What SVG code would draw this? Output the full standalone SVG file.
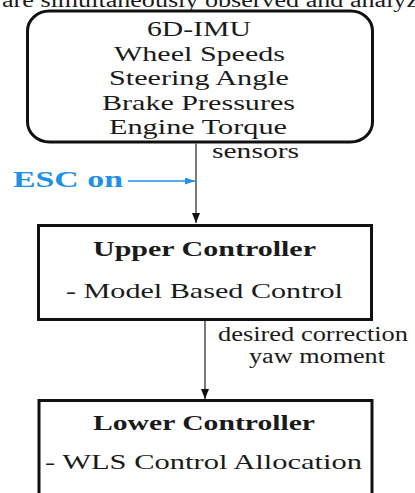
<svg xmlns="http://www.w3.org/2000/svg" width="415" height="493" viewBox="0 0 415 493">
<style>
  .t { font-size: 21.5px; text-anchor: middle; }
  .r { font-size: 20px; }
  .b { font-size: 20px; font-weight: bold; text-anchor: middle; }
  .box { fill: #ffffff; stroke: #111111; stroke-width: 3; }
  .conn { stroke: #333333; stroke-width: 1.3; fill: none; }
  .esc { font-size: 23px; font-weight: bold; fill: #1E90E8; }
</style>
<defs>
  <marker id="ah" markerWidth="10" markerHeight="8" refX="10" refY="4" orient="auto" markerUnits="userSpaceOnUse">
    <path d="M0,0 L10,4 L0,8 Z" fill="#111111"/>
  </marker>
  <marker id="ahb" markerWidth="10" markerHeight="7" refX="10" refY="3.5" orient="auto" markerUnits="userSpaceOnUse">
    <path d="M0,0 L10,3.5 L0,7 Z" fill="#1E90E8"/>
  </marker>
</defs>

<g font-family="Liberation Serif, Times New Roman, serif" fill="#1a1a1a">
<text class="r" x="2" y="6.5" textLength="416" lengthAdjust="spacingAndGlyphs" font-size="22">are simultaneously observed and analyz</text>

<g id="sensors-box">
  <rect class="box" x="27.5" y="11" width="345" height="131" rx="22" ry="20"/>
  <text class="t" x="199" y="36" textLength="104" lengthAdjust="spacingAndGlyphs">6D-IMU</text>
  <text class="t" x="199.5" y="60.5" textLength="171" lengthAdjust="spacingAndGlyphs">Wheel Speeds</text>
  <text class="t" x="199" y="85" textLength="180" lengthAdjust="spacingAndGlyphs">Steering Angle</text>
  <text class="t" x="198.5" y="109.5" textLength="193" lengthAdjust="spacingAndGlyphs">Brake Pressures</text>
  <text class="t" x="198" y="134" textLength="178" lengthAdjust="spacingAndGlyphs">Engine Torque</text>
</g>

<g id="upper-controller">
  <rect class="box" x="38.5" y="225.5" width="333" height="94"/>
  <text class="b" x="204.5" y="256" textLength="223" lengthAdjust="spacingAndGlyphs">Upper Controller</text>
  <text class="t" x="204.5" y="298" textLength="277" lengthAdjust="spacingAndGlyphs" font-size="20">- Model Based Control</text>
</g>

<g id="lower-controller">
  <rect class="box" x="39" y="400.5" width="333" height="110"/>
  <text class="b" x="204" y="430" textLength="222" lengthAdjust="spacingAndGlyphs">Lower Controller</text>
  <text class="t" x="203.5" y="469" textLength="317" lengthAdjust="spacingAndGlyphs" font-size="20">- WLS Control Allocation</text>
</g>

<g id="esc-on">
  <text class="esc" x="13" y="187" textLength="110" lengthAdjust="spacingAndGlyphs">ESC on</text>
</g>

<g id="connectors">
  <line class="conn" x1="196" y1="143.5" x2="196" y2="223" marker-end="url(#ah)"/>
  <line x1="128" y1="181" x2="195" y2="181" stroke="#1E90E8" stroke-width="1.3" marker-end="url(#ahb)"/>
  <line class="conn" x1="205" y1="321" x2="205" y2="399" marker-end="url(#ah)"/>
  <text class="r" x="212" y="158" textLength="87" lengthAdjust="spacingAndGlyphs">sensors</text>
  <text class="r" x="218" y="341" textLength="190" lengthAdjust="spacingAndGlyphs">desired correction</text>
  <text class="r" x="249" y="363" textLength="136" lengthAdjust="spacingAndGlyphs">yaw moment</text>
</g>
</g>
</svg>
